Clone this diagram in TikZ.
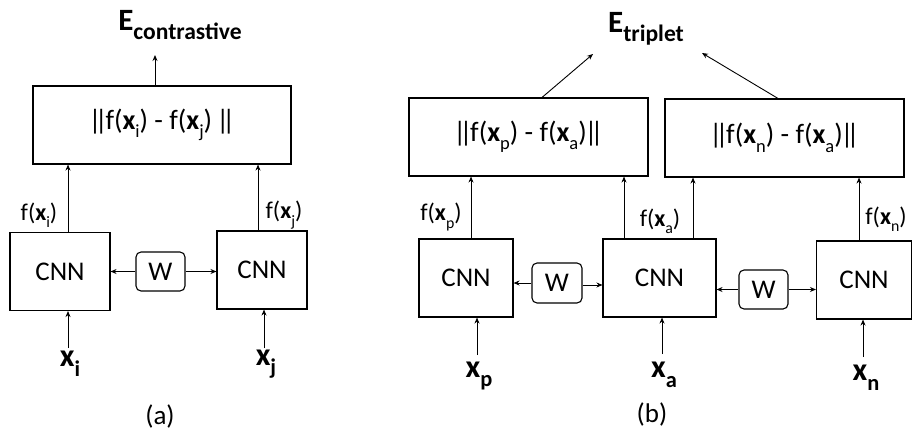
\documentclass[tikz,border=0pt]{standalone}
\usepackage{fontspec}
\setmainfont{Carlito}
\usetikzlibrary{arrows.meta}
\newcommand\lowsub[2][0.66]{\raisebox{-0.3em}{\scalebox{#1}{#2}}}
\newcommand\bx{\textbf{x}}
\newcommand\nbar{\kern-0.08em|\kern-0.24em|\kern-0.08em}
\begin{document}
\begin{tikzpicture}[x=1pt,y=-1pt,
  box/.style={draw,line width=1.1pt,inner sep=0pt},
  wbox/.style={draw,line width=1.1pt,rounded corners=5pt,inner sep=0pt,minimum width=49pt,minimum height=39pt,font=\fontsize{27}{27}\selectfont},
  cnn/.style={box,minimum height=78pt,font=\fontsize{27}{27}\selectfont},
  dist/.style={box,minimum height=78pt,font=\fontsize{28}{28}\selectfont},
  flab/.style={inner sep=0pt,font=\fontsize{24}{24}\selectfont},
  inlab/.style={inner sep=0pt,font=\fontsize{32}{32}\selectfont},
  elab/.style={inner sep=0pt,font=\fontsize{31}{31}\selectfont},
  arr/.style={line width=0.9pt,-{Stealth[length=6pt,width=5pt]}}]
\useasboundingbox (0,0) rectangle (912,436);
% ---------- (a)
\node[dist,minimum width=258pt] (D) at (162,125) {\nbar f(\bx\lowsub{i}) - f(\bx\lowsub{j}) \nbar};
\node[elab] (E) at (180,25) {\textbf{E}\lowsub[0.76]{\textbf{contrastive}}};
\coordinate (Ea) at (155,55);
\draw[arr] (D.north -| Ea) -- (Ea);
\node[cnn,minimum width=100pt] (C1) at (60,271.5) {CNN};
\node[cnn,minimum width=90pt] (C2) at (262,270) {CNN};
\node[wbox] (W) at (160.5,271.5) {W};
\draw[arr] (W.west) -- (C1.east |- W.west);
\draw[arr] (W.east) -- (C2.west |- W.east);
\coordinate (a1) at (68,0);
\coordinate (a2) at (258,0);
\draw[arr] (C1.north -| a1) -- (D.south -| a1);
\draw[arr] (C2.north -| a2) -- (D.south -| a2);
\node[flab] (f1) at (39,215) {f(\bx\lowsub{i})};
\node[flab] (f2) at (284,215) {f(\bx\lowsub{j})};
\node[inlab] (xi) at (70,364) {\bx\lowsub[0.7]{\textbf{i}}};
\node[inlab] (xj) at (266,364) {\bx\lowsub[0.7]{\textbf{j}}};
\coordinate (i1) at (68,348);
\coordinate (i2) at (264,348);
\draw[arr] (i1) -- (C1.south -| i1);
\draw[arr] (i2) -- (C2.south -| i2);
\node[flab,font=\fontsize{27}{27}\selectfont] (la) at (160,416) {(a)};
% ---------- (b)
\node[dist,minimum width=239pt] (D1) at (528.5,137) {\nbar f(\bx\lowsub{p}) - f(\bx\lowsub{a})\nbar};
\node[dist,minimum width=239pt] (D2) at (784.5,138) {\nbar f(\bx\lowsub{n}) - f(\bx\lowsub{a})\nbar};
\node[elab] (Et) at (646,29) {\textbf{E}\lowsub[0.76]{\textbf{triplet}}};
\coordinate (t1) at (593,54);
\coordinate (t2) at (702,53);
\coordinate (s1) at (542,0);
\coordinate (s2) at (778,0);
\draw[arr] (D1.north -| s1) -- (t1);
\draw[arr] (D2.north -| s2) -- (t2);
\node[cnn,minimum width=94pt] (Cp) at (466,278) {CNN};
\node[cnn,minimum width=113pt] (Ca) at (659.5,278) {CNN};
\node[cnn,minimum width=95pt] (Cn) at (864,280) {CNN};
\node[wbox,minimum width=50pt,minimum height=40pt] (W1) at (557,283) {W};
\node[wbox] (W2) at (763.5,289.5) {W};
\coordinate (w1e) at ([yshift=-2pt]W1.east);
\draw[arr] (W1.west) -- (Cp.east |- W1.west);
\draw[arr] (w1e) -- (Ca.west |- w1e);
\draw[arr] (W2.west) -- (Ca.east |- W2.west);
\draw[arr] (W2.east) -- (Cn.west |- W2.east);
\coordinate (b1) at (471,0);
\coordinate (b2) at (624,0);
\coordinate (b3) at (693,0);
\coordinate (b4) at (859,0);
\draw[arr] (Cp.north -| b1) -- (D1.south -| b1);
\draw[arr] (Ca.north -| b2) -- (D1.south -| b2);
\draw[arr] (Ca.north -| b3) -- (D2.south -| b3);
\draw[arr] (Cn.north -| b4) -- (D2.south -| b4);
\node[flab] (fp) at (441,217) {f(\bx\lowsub{p})};
\node[flab] (fa) at (660,221) {f(\bx\lowsub{a})};
\node[flab] (fn) at (886,219) {f(\bx\lowsub{n})};
\node[inlab] (xp) at (479,376) {\bx\lowsub[0.7]{\textbf{p}}};
\node[inlab] (xa) at (664,375) {\bx\lowsub[0.7]{\textbf{a}}};
\node[inlab] (xn) at (866,378) {\bx\lowsub[0.7]{\textbf{n}}};
\coordinate (j1) at (477,355);
\coordinate (j2) at (662,354);
\coordinate (j3) at (863,357);
\draw[arr] (j1) -- (Cp.south -| j1);
\draw[arr] (j2) -- (Ca.south -| j2);
\draw[arr] (j3) -- (Cn.south -| j3);
\node[flab,font=\fontsize{27}{27}\selectfont] (lb) at (652,414) {(b)};
\end{tikzpicture}
\end{document}
